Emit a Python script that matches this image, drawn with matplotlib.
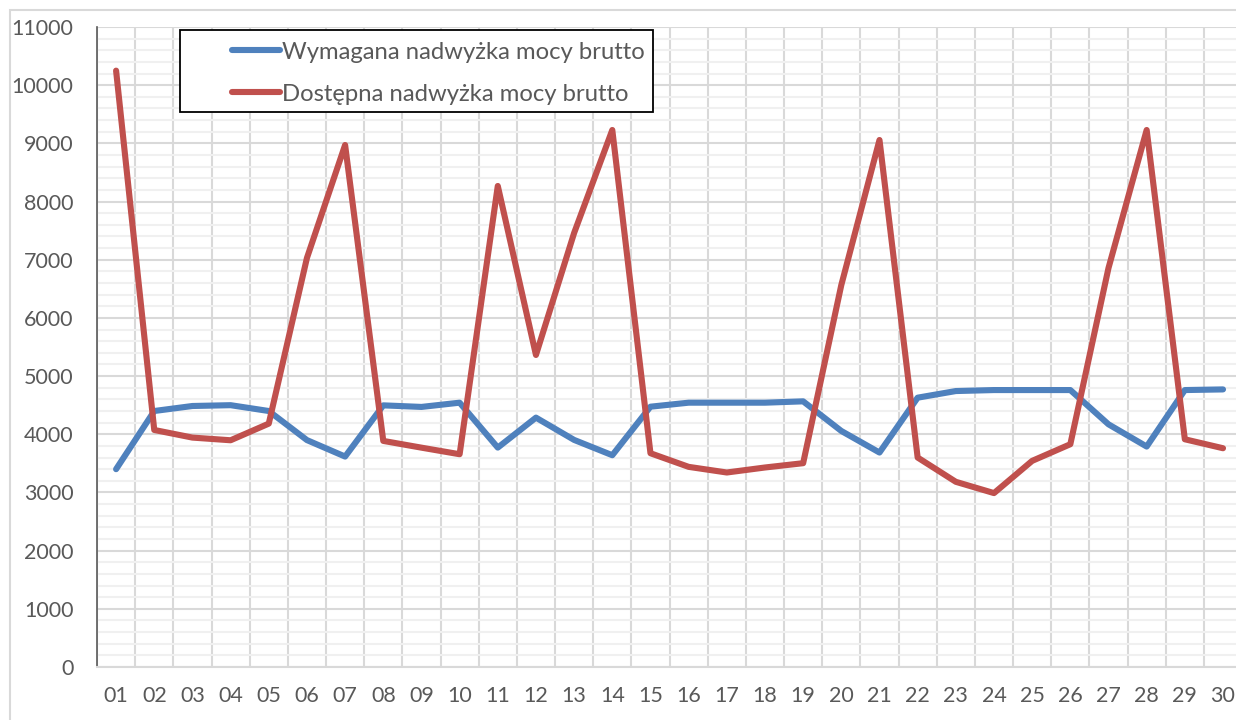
import numpy as np
import matplotlib.pyplot as plt
from matplotlib.patches import Rectangle
from matplotlib.ticker import MultipleLocator

days = ["%02d" % d for d in range(1, 31)]
wymagana = [3400, 4400, 4486, 4500, 4400, 3900, 3617, 4497, 4470, 4543,
            3771, 4286, 3903, 3640, 4474, 4543, 4543, 4543, 4566, 4057,
            3686, 4629, 4743, 4760, 4760, 4760, 4171, 3789, 4760, 4771]
dostepna = [10250, 4074, 3943, 3897, 4183, 7030, 8972, 3886, 3770, 3657,
            8268, 5363, 7460, 9230, 3674, 3440, 3343, 3429, 3503, 6566,
            9058, 3600, 3183, 2989, 3543, 3829, 6858, 9230, 3914, 3760]
labels = ["Wymagana nadwyżka mocy brutto", "Dostępna nadwyżka mocy brutto"]

plt.rcParams['font.family'] = ['Lato', 'DejaVu Sans']
txt = '#595959'
W, H = 1236, 720
fig = plt.figure(figsize=(W / 100, H / 100), dpi=100)

# outer chart border
fig.patches.append(Rectangle((10 / W, -0.1), 1.2, 1 - 10 / H + 0.1,
                             transform=fig.transFigure, fill=False,
                             edgecolor='#d9d9d9', lw=1.5))

ax = fig.add_axes([97 / W, 1 - 667 / H, (30 * 38.17) / W, (667 - 27) / H])
x = np.arange(1, 31)
l1, = ax.plot(x, wymagana, color='#4F81BD', lw=4.4,
              solid_capstyle='round', solid_joinstyle='round', zorder=3)
l2, = ax.plot(x, dostepna, color='#C0504D', lw=4.4,
              solid_capstyle='round', solid_joinstyle='round', zorder=3)

ax.set_xlim(0.5, 30.5)
ax.set_ylim(0, 11000)
ax.set_xticks(x)
ax.set_xticklabels(days)
ax.set_yticks(np.arange(0, 11001, 1000))
ax.xaxis.set_minor_locator(MultipleLocator(1, offset=0.5))
ax.yaxis.set_minor_locator(MultipleLocator(200))
ax.xaxis.grid(True, which='minor', color='#d9d9d9', lw=1.5)
ax.yaxis.grid(True, which='major', color='#d9d9d9', lw=1.5)
ax.yaxis.grid(True, which='minor', color='#f0f0f0', lw=1.5)
ax.set_axisbelow(True)
ax.tick_params(which='both', length=0, labelsize=15.5, colors=txt)
ax.tick_params(axis='x', pad=14)
ax.tick_params(axis='y', pad=17)
for s in ['top', 'right']:
    ax.spines[s].set_visible(False)
ax.spines['left'].set_color('#595959')
ax.spines['left'].set_linewidth(1.2)
ax.spines['bottom'].set_color('#d9d9d9')
ax.spines['bottom'].set_linewidth(1.5)

# legend box
fig.patches.append(Rectangle((180 / W, 1 - 112 / H), 473 / W, 82 / H,
                             transform=fig.transFigure, facecolor='white',
                             edgecolor='black', lw=1.3, zorder=5))
leg = fig.legend([l1, l2], labels, loc='upper left',
                 bbox_to_anchor=(227 / W, 1 - 37 / H),
                 bbox_transform=fig.transFigure, frameon=False,
                 fontsize=17.2, handlelength=2.0, handletextpad=0.1,
                 labelspacing=0.88, borderaxespad=0, borderpad=0.2)
for t in leg.get_texts():
    t.set_color(txt)
leg.set_zorder(6)

fig.savefig('out.png', dpi=100)
